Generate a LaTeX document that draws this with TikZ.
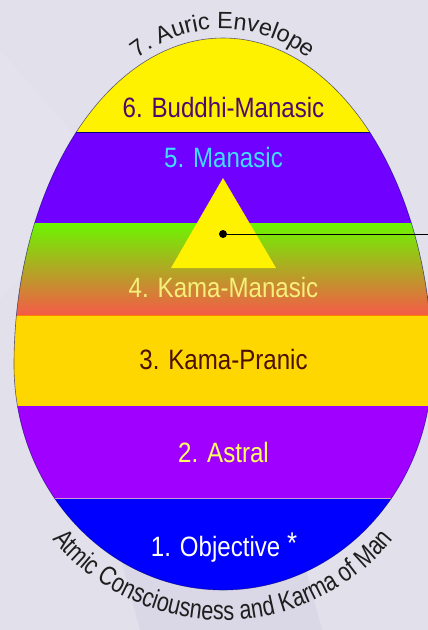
\documentclass[tikz,border=0pt]{standalone}
\usepackage{fontspec}
\setmainfont{Liberation Sans}
\newfontfamily\bandfont[FakeStretch=0.86]{Liberation Sans}
\newfontfamily\arcfontB[FakeStretch=0.8]{Liberation Sans}
\usetikzlibrary{decorations.text}
\definecolor{bgc}{HTML}{E1E0EB}
\definecolor{bglight}{HTML}{E4E3ED}
\definecolor{bgdark}{HTML}{DAD8E6}
\definecolor{b6}{HTML}{FFF200}
\definecolor{b5}{HTML}{7000FF}
\definecolor{b4top}{HTML}{6CF500}
\definecolor{b4bot}{HTML}{F55A48}
\definecolor{b3}{HTML}{FFD700}
\definecolor{b2}{HTML}{A000FF}
\definecolor{b1}{HTML}{0000FF}
\definecolor{t6}{HTML}{4B0A6E}
\definecolor{t5}{HTML}{40DDFF}
\definecolor{t4}{HTML}{F5F07A}
\definecolor{t3}{HTML}{4A1000}
\definecolor{t2}{HTML}{FFFF60}
\definecolor{arctext}{HTML}{1E1E1E}
\begin{document}
\begin{tikzpicture}[x=1pt,y=-1pt,
  bandlabel/.style={font=\bandfont\fontsize{28}{30}\selectfont, anchor=base, inner sep=0pt},
  eggline/.style={draw=blue!40!black, draw opacity=0.6, line width=0.6pt}]
\useasboundingbox (0,0) rectangle (428,630);
\clip (0,0) rectangle (428,630);
% background
\fill[bgc] (0,0) rectangle (428,630);
\fill[bglight] (0,50) -- (110,175) -- (0,300) -- cycle;
\fill[bgdark] (120,555) -- (302,555) -- (322,630) -- (140,630) -- cycle;
% egg bands
\begin{scope}
\clip (14,365) arc[start angle=180,end angle=360,x radius=209,y radius=327]
      arc[start angle=0,end angle=180,x radius=209,y radius=225] -- cycle;
\fill[b6] (0,30) rectangle (428,132);
\fill[b5] (0,132) rectangle (428,223);
\shade[top color=b4top, bottom color=b4bot] (0,223) rectangle (428,315);
\fill[b3] (0,315) rectangle (428,406);
\fill[b2] (0,406) rectangle (428,498);
\fill[b1] (0,498) rectangle (428,600);
\draw[blue!50!black, line width=0.8pt] (0,132) -- (428,132);
\draw[orange, line width=0.6pt] (0,315) -- (428,315);
\draw[violet!40!white, line width=0.8pt] (0,498) -- (428,498);
\end{scope}
\path[eggline] (14,365) arc[start angle=180,end angle=360,x radius=209,y radius=327]
      arc[start angle=0,end angle=180,x radius=209,y radius=225] -- cycle;
% triangle
\fill[yellow] (223,178) -- (276,268) -- (171,268) -- cycle;
\coordinate (dot) at (223,234);
\coordinate (lineend) at (428,234);
\draw[black, line width=0.9pt] (dot) -- (lineend);
\fill[black] (dot) circle (4);
% labels
\node[bandlabel, text=t6] (l6) at (223.5,117.5) {6. Buddhi-Manasic};
\node[bandlabel, text=t5] (l5) at (223.5,167) {5. Manasic};
\node[bandlabel, text=t4] (l4) at (223.5,297) {4. Kama-Manasic};
\node[bandlabel, text=t3] (l3) at (223.5,369) {3. Kama-Pranic};
\node[bandlabel, text=t2] (l2) at (223.5,462) {2. Astral};
\node[bandlabel, text=white] (l1) at (224,556) {1. Objective \raisebox{3pt}{\fontsize{30}{30}\selectfont *}};
% arc texts
\path[decorate, decoration={text along path, text align=center, text color=arctext,
   text={|\fontsize{23.5}{24}\selectfont|7. Auric Envelope}}]
   (223,167) ++(220:138) arc[start angle=220,end angle=320,radius=138];
\path[decorate, decoration={text along path, text align=center, text color=arctext,
   text={|\arcfontB\fontsize{27}{28}\selectfont|Atmic Consciousness and Karma of Man}}]
   (223,400) ++(160:220) arc[start angle=160,end angle=20,radius=220];
\end{tikzpicture}
\end{document}
